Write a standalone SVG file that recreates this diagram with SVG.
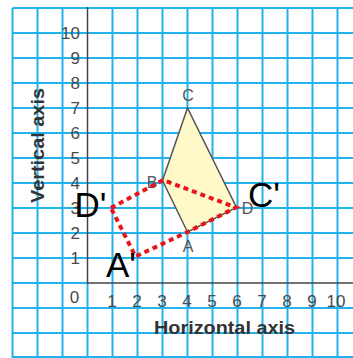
<svg xmlns="http://www.w3.org/2000/svg" width="353" height="358" viewBox="0 0 353 358">
<style>
.grid line{stroke:#22b2ee;stroke-width:2}
.axis{stroke:#444;stroke-width:1.5;fill:none}
.num{font-family:"Liberation Sans",Arial,sans-serif;font-size:17px;fill:#4a4a4a}
.pt{font-family:"Liberation Sans",Arial,sans-serif;font-size:16px;fill:#555}
.big{font-family:"Liberation Sans",Arial,sans-serif;font-size:35px;fill:#000}
.ttl{font-family:"Liberation Sans",Arial,sans-serif;font-size:19px;font-weight:bold;fill:#333}
</style>
<rect width="353" height="358" fill="#fff"/>
<g class="grid">
<line x1="12.5" y1="8" x2="12.5" y2="358"/>
<line x1="37.5" y1="8" x2="37.5" y2="358"/>
<line x1="62.5" y1="8" x2="62.5" y2="358"/>
<line x1="112.5" y1="8" x2="112.5" y2="358"/>
<line x1="137.5" y1="8" x2="137.5" y2="358"/>
<line x1="162.5" y1="8" x2="162.5" y2="358"/>
<line x1="187.5" y1="8" x2="187.5" y2="358"/>
<line x1="212.5" y1="8" x2="212.5" y2="358"/>
<line x1="237.5" y1="8" x2="237.5" y2="358"/>
<line x1="262.5" y1="8" x2="262.5" y2="358"/>
<line x1="287.5" y1="8" x2="287.5" y2="358"/>
<line x1="312.5" y1="8" x2="312.5" y2="358"/>
<line x1="337.5" y1="8" x2="337.5" y2="358"/>
<line x1="87.5" y1="283" x2="87.5" y2="358"/>
<line x1="12.5" y1="8" x2="353" y2="8"/>
<line x1="12.5" y1="33" x2="353" y2="33"/>
<line x1="12.5" y1="58" x2="353" y2="58"/>
<line x1="12.5" y1="83" x2="353" y2="83"/>
<line x1="12.5" y1="108" x2="353" y2="108"/>
<line x1="12.5" y1="133" x2="353" y2="133"/>
<line x1="12.5" y1="158" x2="353" y2="158"/>
<line x1="12.5" y1="183" x2="353" y2="183"/>
<line x1="12.5" y1="208" x2="353" y2="208"/>
<line x1="12.5" y1="233" x2="353" y2="233"/>
<line x1="12.5" y1="258" x2="353" y2="258"/>
<line x1="12.5" y1="283" x2="87.5" y2="283"/>
<line x1="12.5" y1="308" x2="353" y2="308"/>
<line x1="12.5" y1="333" x2="353" y2="333"/>
<line x1="12.5" y1="357" x2="353" y2="357"/>
</g>
<g id="axes">
<path class="axis" d="M87.5 7 V283 H353"/>
</g>
<g id="y-labels" class="num" text-anchor="end">
<text x="80" y="39">10</text>
<text x="80" y="64">9</text>
<text x="80" y="89">8</text>
<text x="80" y="114">7</text>
<text x="80" y="139">6</text>
<text x="80" y="164">5</text>
<text x="80" y="189">4</text>
<text x="80" y="214">3</text>
<text x="80" y="239">2</text>
<text x="80" y="264">1</text>
</g>
<g id="x-labels" class="num" text-anchor="middle">
<text x="74.5" y="303">0</text>
<text x="112" y="307">1</text>
<text x="137" y="307">2</text>
<text x="162" y="307">3</text>
<text x="187" y="307">4</text>
<text x="212" y="307">5</text>
<text x="237" y="307">6</text>
<text x="262" y="307">7</text>
<text x="287" y="307">8</text>
<text x="312" y="307">9</text>
<text x="336" y="307">10</text>
</g>
<text id="x-title" class="ttl" x="154" y="334" textLength="141" lengthAdjust="spacingAndGlyphs">Horizontal axis</text>
<text id="y-title" class="ttl" transform="translate(44 203) rotate(-90)" textLength="115" lengthAdjust="spacingAndGlyphs">Vertical axis</text>
<g id="ABCD">
<polygon points="187.5,232 162.5,180.5 187.5,108 236.5,207.5" fill="#fff9c9" stroke="#555" stroke-width="1.5"/>
<text class="pt" x="188" y="252" text-anchor="middle">A</text>
<text class="pt" x="152" y="188" text-anchor="middle">B</text>
<text class="pt" x="188" y="100.5" text-anchor="middle">C</text>
<text class="pt" x="247.5" y="214" text-anchor="middle">D</text>
</g>
<g id="connectors">
<polygon points="111,208 163,180 236,207.5 187.5,232 135.5,256.5" fill="none" stroke="#e8141b" stroke-width="4" stroke-dasharray="5 4"/>
</g>
<g id="image-labels">
<text class="big" x="74.5" y="217">D'</text>
<text class="big" x="106" y="276.5">A'</text>
<text class="big" x="248" y="207">C'</text>
</g>
</svg>
